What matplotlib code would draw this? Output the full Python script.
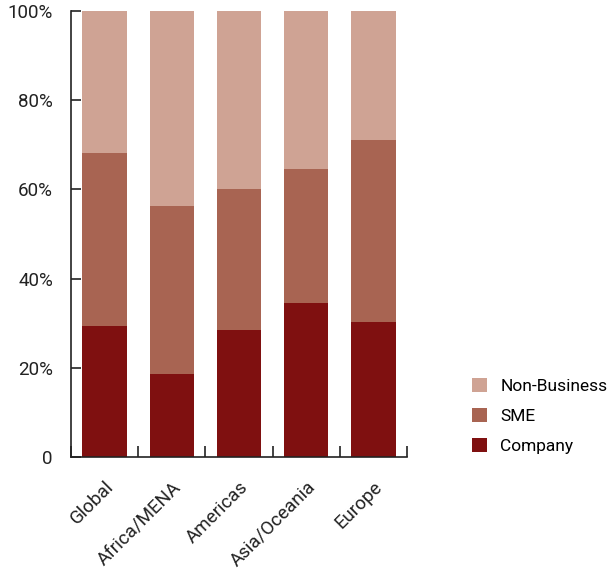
import matplotlib
matplotlib.use("Agg")
import matplotlib.pyplot as plt
import matplotlib.transforms as mtransforms
import numpy as np

categories = ["Global", "Africa/MENA", "Americas", "Asia/Oceania", "Europe"]
company = [29.4, 18.6, 28.5, 34.5, 30.3]
sme = [38.8, 37.7, 31.6, 30.1, 40.8]
non_business = [31.8, 43.7, 39.9, 35.4, 28.9]
series_names = ["Company", "SME", "Non-Business"]
colors = ["#7f1010", "#a86452", "#cfa394"]
yticks = [0, 20, 40, 60, 80, 100]
ytick_labels = ["0", "20%", "40%", "60%", "80%", "100%"]

plt.rcParams['font.family'] = ['Roboto', 'DejaVu Sans']

fig = plt.figure(figsize=(6.1, 5.75), dpi=100)
ax = fig.add_axes([0.1164, 0.2052, 0.5508, 0.7757])

x = np.arange(len(categories))
bottom = np.zeros(len(categories))
handles = []
for name, vals, c in zip(series_names, [company, sme, non_business], colors):
    b = ax.bar(x, vals, width=0.66, bottom=bottom, color=c, label=name)
    handles.append(b)
    bottom += np.array(vals)

ax.set_xlim(-0.5, len(categories) - 0.5)
ax.set_ylim(0, 100)
ax.set_yticks(yticks)
ax.set_yticklabels(ytick_labels, fontsize=13.5, color="#222222")
ax.set_xticks(x)
ax.set_xticklabels(categories, rotation=45, ha="right", rotation_mode="anchor",
                   fontsize=13.5, color="#222222")
offset = mtransforms.ScaledTranslation(4 / 100, 2 / 100, fig.dpi_scale_trans)
for lbl in ax.get_xticklabels():
    lbl.set_transform(lbl.get_transform() + offset)
ax.set_xticks(np.arange(-0.5, len(categories)), minor=True)
ax.tick_params(axis="x", which="major", length=0, pad=15)
ax.tick_params(axis="x", which="minor", direction="in", length=8, width=1.2, color="#222222")
ax.tick_params(axis="y", direction="in", length=7, width=1.2, color="#222222", pad=13)

for s in ["top", "right"]:
    ax.spines[s].set_visible(False)
for s in ["left", "bottom"]:
    ax.spines[s].set_linewidth(1.2)
    ax.spines[s].set_color("#222222")

leg = fig.legend(handles[::-1], series_names[::-1], loc="center left",
                 bbox_to_anchor=(0.773, 0.277), frameon=False, fontsize=12.5,
                 handlelength=0.9, handleheight=0.9, labelspacing=0.8, handletextpad=0.75,
                 borderaxespad=0, borderpad=0)

fig.savefig("out.png", dpi=100)
